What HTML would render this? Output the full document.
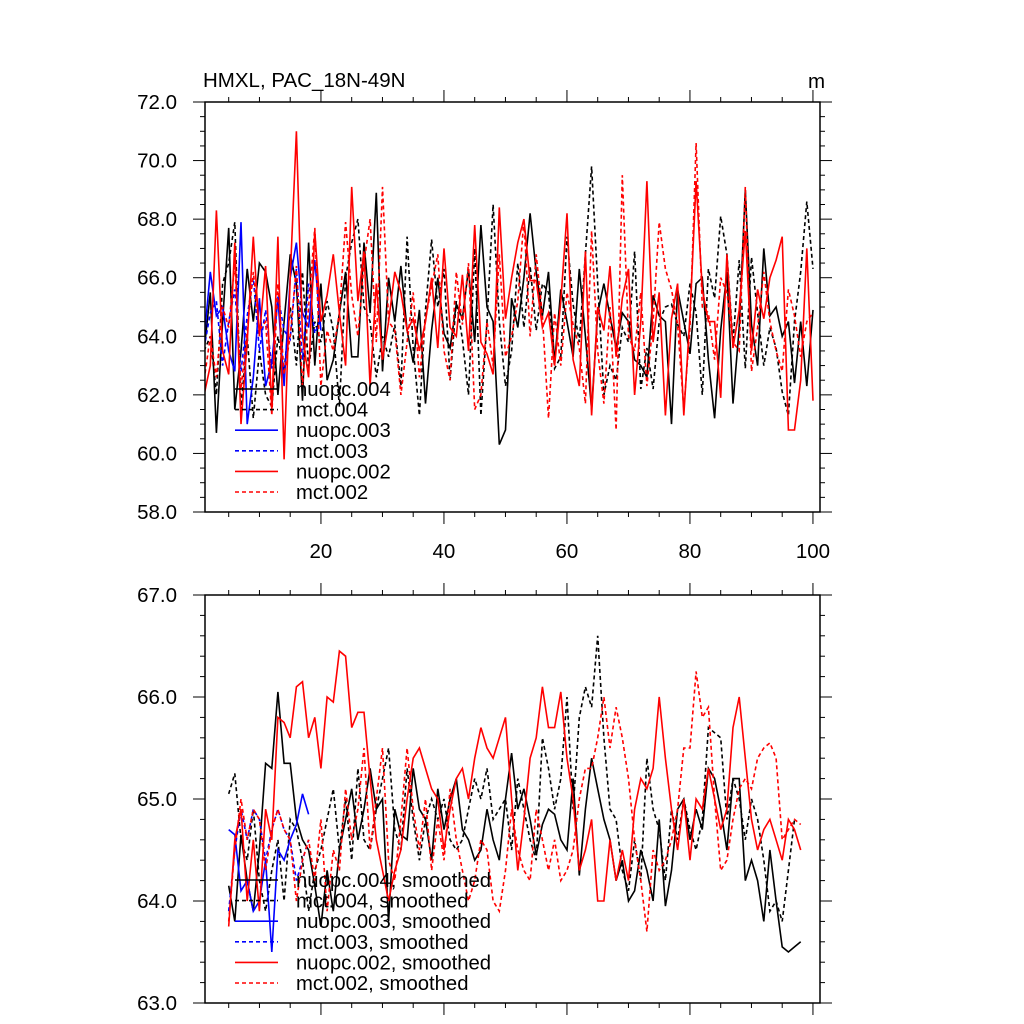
<!DOCTYPE html>
<html><head><meta charset="utf-8"><style>
body{margin:0;background:#fff}
svg{display:block;font-family:"Liberation Sans",sans-serif}
</style></head><body>
<svg id="c" width="1024" height="1024" viewBox="0 0 1024 1024">
<rect width="1024" height="1024" fill="#fff"/>
<text x="203" y="87" font-size="20.5">HMXL, PAC_18N-49N</text>
<text x="808" y="88" font-size="20.5">m</text>
</svg>
<script>
const years=[1,100];
const topTicks=[58,60,62,64,66,68,70,72];
const botTicks=[63,64,65,66,67];
const xTickLabels=[20,40,60,80,100];
const n4=[63.5,65.5,60.7,64.5,67.7,61.5,63.5,66.3,64.5,66.5,66.2,65,62,64.5,66.8,65.8,61.8,67.2,63,65.8,62.5,63.2,64.8,66.2,63.3,63.3,67.2,64.8,68.9,62.8,66.0,64.5,66.4,64.2,63.1,64.9,61.7,64.2,66.0,64.1,63.6,65.1,64.6,66.3,63.8,67.8,65.0,64.5,60.3,60.8,65.3,64.3,66.0,68.2,66.2,64.7,66.2,63.1,65.6,64.5,63.3,66.3,64.0,61.5,64.8,65.8,64.7,63.6,64.8,64.5,63.2,63.0,62.6,65.4,64.7,64.5,61.0,65.6,64.5,63.4,65.8,66.0,63.2,61.2,64.2,66.2,61.7,64.3,69.0,64.4,63.0,67.0,64.7,65.0,64.0,64.5,62.4,64.5,62.3,64.9];
const m4=[63.5,64.0,62.0,65.8,66.5,67.9,61.5,64.0,61.2,63.5,62.0,61.6,64.0,62.8,65.0,63.0,66.2,62.9,64.5,63.8,65.2,64.2,61.6,66.0,67.2,68.0,65.0,64.5,62.6,64.0,63.3,64.4,62.3,67.4,63.6,61.3,64.9,67.3,65.0,66.3,62.5,65.2,63.9,62.0,67.0,61.3,64.5,68.5,64.5,62.3,63.5,66.5,64.3,66.4,64.2,65.8,65.5,62.9,63.3,67.4,65.1,63.8,66.8,69.8,65.8,62.0,63.0,62.5,64.3,63.8,66.9,62.2,63.6,62.2,64.5,65.0,65.1,64.4,64.0,65.8,64.8,62.0,66.3,65.3,68.1,66.8,63.8,66.6,62.9,66.7,64.8,63.0,64.3,63.6,62.1,61.3,64.5,66.2,68.6,66.3];
const n3=[63.9,66.2,64.7,65.0,63.5,62.8,67.9,61.0,62.6,65.3,62.3,63.1,65.3,62.3,66.0,67.2,64.8,64.3,66.6,64.2];
const m3=[63.6,64.8,65.2,63.0,64.5,65.6,62.8,64.7,66.0,63.5,64.9,62.9,65.4,64.2,63.9,66.3,63.2,65.8,64.1,64.6];
const n2=[62.0,63.0,68.3,63.5,62.7,67.2,61.0,63.8,67.4,64.0,66.4,61.5,67.4,59.8,66.0,71.0,64.0,62.6,67.6,64.5,65.4,66.8,64.8,63.0,69.1,65.2,66.9,62.3,65.8,63.2,64.5,66.2,65.5,64.2,64.6,63.5,64.5,66.0,63.6,67.0,64.3,64.0,66.1,63.5,67.8,63.8,63.4,62.7,68.4,64.6,66.0,67.2,68.0,65.9,65.9,64.3,64.8,63.0,65.2,68.2,63.2,62.3,66.9,61.3,65.0,64.2,66.4,63.3,65.3,66.3,62.0,64.5,69.3,63.8,65.5,61.3,64.6,65.8,61.3,64.7,69.3,65.6,64.5,64.5,61.9,66.8,63.6,64.9,67.6,63.5,65.6,64.6,66.0,66.6,67.4,60.8,60.8,62.5,67.0,61.8];
const m2=[62.5,64.0,62.6,65.0,64.3,66.5,62.2,64.2,66.2,64.2,64.5,61.3,65.8,62.7,64.0,66.4,62.3,65.0,67.7,62.3,64.2,63.5,64.8,67.9,65.4,64.0,66.5,68.0,63.8,69.1,64.5,64.2,62.0,63.8,65.5,62.6,64.6,65.7,66.8,63.5,62.5,66.2,64.4,66.5,61.5,62.0,64.5,63.0,66.8,63.3,64.0,65.2,68.0,64.0,66.8,64.7,61.2,64.8,63.0,65.5,64.4,63.6,61.7,67.6,63.5,61.7,65.0,60.8,69.5,64.0,63.5,65.5,62.3,64.5,67.9,66.3,65.6,64.4,61.5,64.3,70.6,65.0,64.8,63.2,66.0,65.5,63.8,63.5,69.1,62.8,64.3,66.2,64.5,63.5,62.8,65.6,64.7,63.3,64.5,64.8];
const sn4=[64.15,63.8,64.65,64.2,63.9,64.5,65.35,65.3,66.05,65.35,65.35,64.8,64.6,64.5,64.15,63.75,64.3,63.9,64.5,64.8,65.1,64.6,64.9,65.3,64.9,65.0,63.8,64.9,64.65,64.6,65.3,64.9,64.8,64.4,65.1,64.7,65.0,65.2,64.7,64.6,64.4,64.5,64.9,64.6,64.4,65.0,65.45,64.9,65.1,64.8,64.45,64.75,64.9,64.85,64.6,64.5,65.2,64.25,64.9,65.4,65.1,64.8,64.6,64.2,64.4,64.0,64.1,64.5,64.3,64.0,64.8,63.95,64.3,64.9,65.0,64.6,64.9,64.7,65.3,65.2,64.9,64.5,65.2,65.2,64.2,64.4,64.2,63.8,64.5,64.0,63.55,63.5,63.55,63.6];
const sm4=[65.05,65.25,64.6,64.4,64.9,64.2,63.9,64.3,64.6,64.0,64.8,64.7,64.4,63.9,64.3,64.5,64.8,65.1,64.5,65.0,64.4,65.3,64.6,64.5,64.9,65.2,65.5,64.7,64.5,65.3,64.8,64.4,64.8,65.0,64.8,65.0,64.6,64.5,64.6,64.9,65.2,65.0,65.3,64.8,64.9,65.0,64.5,65.2,64.9,64.6,64.4,65.6,65.3,64.9,65.2,66.0,64.9,65.8,66.1,65.9,66.6,65.6,64.9,64.8,64.3,64.1,64.6,64.2,65.4,64.9,64.7,64.2,64.9,64.6,65.0,64.7,64.5,64.8,65.7,65.65,65.6,64.8,65.2,65.0,64.6,65.0,64.8,64.4,63.9,64.0,63.8,64.3,64.8];
const sn3=[64.7,64.65,64.1,64.2,63.9,64.0,64.4,63.5,64.5,64.4,64.6,64.75,65.05,64.85];
const sm3=[63.9,64.5,64.9,64.6,64.9,64.8,64.4,64.7,64.9,64.7,64.6,64.2,64.4,64.6];
const sn2=[63.75,64.6,64.9,64.0,64.6,63.9,64.9,64.6,65.8,65.75,65.6,66.1,66.15,65.6,65.8,65.3,66.0,65.95,66.45,66.4,65.7,65.85,65.85,65.2,64.6,64.3,64.0,64.3,64.5,65.0,65.4,65.5,65.3,65.1,65.0,64.5,64.9,65.2,65.3,65.0,65.4,65.7,65.5,65.4,65.6,65.8,65.0,64.3,64.8,65.4,65.6,66.1,65.7,65.7,66.05,65.4,65.0,64.3,64.5,64.8,64.0,64.0,64.6,64.2,64.5,64.2,64.9,65.2,65.1,65.3,66.0,65.4,64.9,64.5,65.0,64.4,65.0,64.9,65.3,65.0,64.7,64.9,65.7,66.0,65.4,64.8,64.5,64.7,64.8,64.6,64.4,64.8,64.7,64.5];
const sm2=[63.8,64.5,65.0,64.6,64.9,64.8,64.3,64.7,64.9,64.7,64.6,64.0,64.4,64.6,64.2,64.8,63.9,64.5,64.3,65.1,64.6,64.9,65.5,64.5,65.0,65.5,64.4,64.2,64.8,65.5,64.9,64.5,65.0,64.3,64.8,64.4,65.1,64.6,64.3,64.0,64.2,64.6,64.5,64.0,63.9,64.3,64.9,64.5,64.3,64.2,64.9,64.6,64.3,64.6,64.2,64.3,64.5,65.0,65.3,65.3,65.6,66.0,65.5,65.9,65.6,65.2,64.6,64.2,63.7,64.5,64.3,64.4,64.6,64.9,65.5,65.5,66.25,65.8,65.9,65.0,64.3,64.4,64.8,65.1,65.2,65.1,65.4,65.5,65.55,65.4,64.6,64.7,64.8,64.75];
const topLegend=["nuopc.004","mct.004","nuopc.003","mct.003","nuopc.002","mct.002"];
const botLegend=["nuopc.004, smoothed","mct.004, smoothed","nuopc.003, smoothed","mct.003, smoothed","nuopc.002, smoothed","mct.002, smoothed"];

const svg=document.getElementById('c');
const NS='http://www.w3.org/2000/svg';
function mk(t,a,p){const e=document.createElementNS(NS,t);for(const k in a)e.setAttribute(k,a[k]);(p||svg).appendChild(e);return e;}
const X0=205,X1=820;
function sx(v){return 204.1+(v-1)*6.15;}
const styles=[{c:'#000',d:''},{c:'#000',d:'4,3'},{c:'#0000ff',d:''},{c:'#0000ff',d:'4,3'},{c:'#ff0000',d:''},{c:'#ff0000',d:'4,3'}];

function panel(name,Y0,Y1,vmin,vmax,ticks,minorStep,labelsBottom,series,starts,legend,legY){
  const sy=v=>Y1-(v-vmin)/(vmax-vmin)*(Y1-Y0);
  const g=mk('g',{});
  
  
  const clip=mk('clipPath',{id:name+'-clip'},g);
  mk('rect',{x:X0,y:Y0,width:X1-X0,height:Y1-Y0},clip);
  const sg=mk('g',{'clip-path':'url(#'+name+'-clip)'},g);
  series.forEach((arr,si)=>{
    const pts=arr.map((v,i)=>sx(starts[si]+i).toFixed(1)+','+sy(v).toFixed(1)).join(' ');
    const pl=mk('polyline',{points:pts,fill:'none',stroke:styles[si].c,'stroke-width':1.6,'stroke-dasharray':styles[si].d},sg);
    
    
  });
  const fr=mk('rect',{x:X0,y:Y0,width:X1-X0,height:Y1-Y0,fill:'none',stroke:'#000','stroke-width':1.5},g);
  
  
  for(let v=vmin;v<=vmax+1e-6;v+=minorStep){
    const major=ticks.some(t=>Math.abs(t-v)<1e-6);const L=major?12:5;const y=sy(v);
    mk('line',{x1:X0-L,x2:X0,y1:y,y2:y,stroke:'#000','stroke-width':1},g);
    mk('line',{x1:X1,x2:X1+L,y1:y,y2:y,stroke:'#000','stroke-width':1},g);
  }
  ticks.forEach(t=>{
    const tx=mk('text',{x:177,y:sy(t)+7,'font-size':20.5,'text-anchor':'end'},g);
    tx.textContent=t.toFixed(1);
    
    
  });
  for(let v=5;v<=100;v+=5){
    const major=v%20===0;const L=major?12:5;const x=sx(v);
    mk('line',{x1:x,x2:x,y1:Y0-L,y2:Y0,stroke:'#000','stroke-width':1},g);
    mk('line',{x1:x,x2:x,y1:Y1,y2:Y1+L,stroke:'#000','stroke-width':1},g);
  }
  if(labelsBottom){xTickLabels.forEach(t=>{
    const tx=mk('text',{x:sx(t),y:Y1+46,'font-size':20.5,'text-anchor':'middle'},g);
    tx.textContent=t;
    
    
  });}
  legend.forEach((lab,i)=>{
    const y=legY+i*20.6;
    const ln=mk('line',{x1:235,x2:278,y1:y,y2:y,stroke:styles[i].c,'stroke-width':1.6,'stroke-dasharray':styles[i].d},g);
    
    
    const tx=mk('text',{x:296,y:y+7,'font-size':20.3},g);
    tx.textContent=lab;
    
    
  });
}
panel('top-panel',102,512,58,72,topTicks,0.5,true,[n4,m4,n3,m3,n2,m2],[1,1,1,1,1,1],topLegend,389);
panel('bottom-panel',595,1003,63,67,botTicks,0.2,false,[sn4,sm4,sn3,sm3,sn2,sm2],[5,5,5,5,5,5],botLegend,880);
</script>
</body></html>
